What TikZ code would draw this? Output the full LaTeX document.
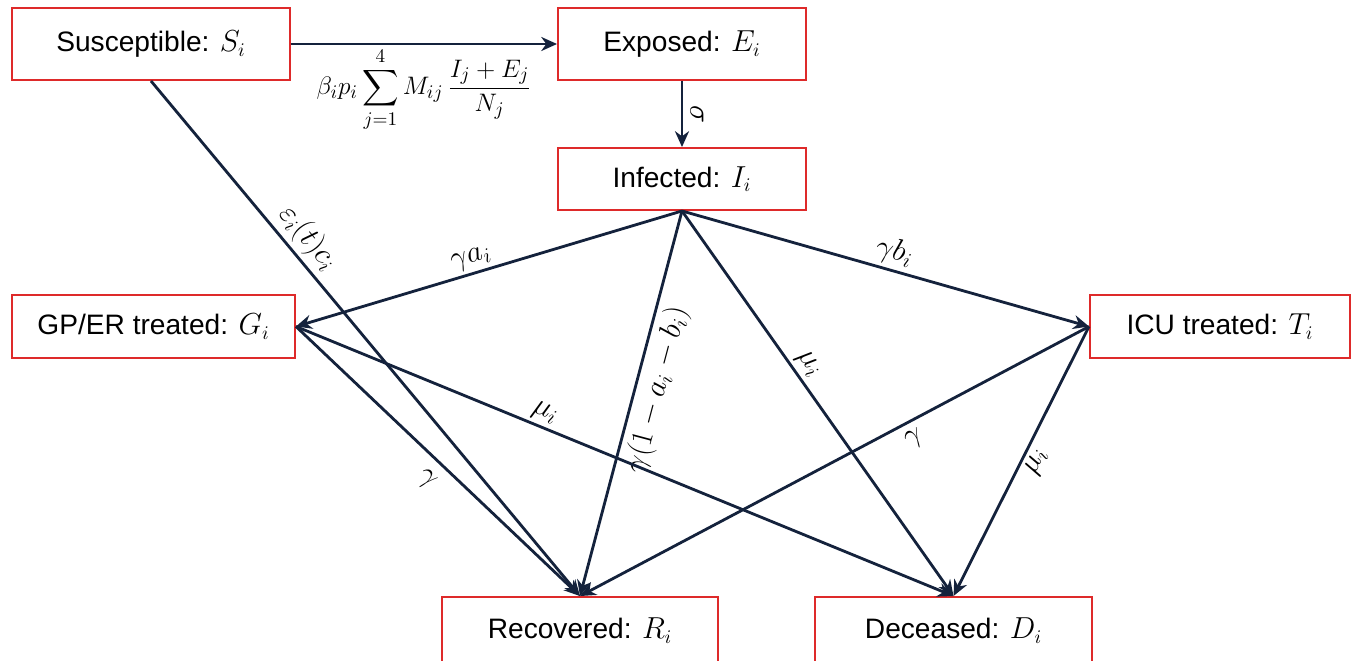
\documentclass[tikz,border=0pt]{standalone}
\usepackage{amsmath}
\usepackage[no-math]{fontspec}
\setmainfont{Liberation Sans}
\usetikzlibrary{arrows.meta, positioning}
\definecolor{BR}{RGB}{222,42,42}
\definecolor{NV}{RGB}{20,34,60}

\begin{document}
\begin{tikzpicture}[
  box/.style={draw=BR, line width=1.1pt, fill=white,
              minimum width=#1, minimum height=1.26cm,
              inner sep=0pt, font=\fontsize{16}{19}\selectfont},
  arr/.style={-{Stealth[length=9pt, width=8pt]}, line width=1.6pt, draw=NV},
  lbl/.style={sloped, inner sep=2pt, font=\fontsize{17}{20}\selectfont}
]
\useasboundingbox (0,0) rectangle (27.16,-13.22);

% Compartments
\node[box=5.56cm, minimum height=1.44cm] (S) at (3.02,-0.88)  {Susceptible: $S_i$};
\node[box=4.96cm, minimum height=1.44cm] (E) at (13.64,-0.88) {Exposed: $E_i$};
\node[box=4.96cm, minimum height=1.24cm] (I) at (13.64,-3.58) {Infected: $I_i$};
\node[box=5.66cm] (G) at (3.07,-6.53)  {GP/ER treated: $G_i$};
\node[box=5.20cm] (T) at (24.40,-6.53) {ICU treated: $T_i$};
\node[box=5.52cm, minimum height=1.34cm] (R) at (11.60,-12.61) {Recovered: $R_i$};
\node[box=5.54cm, minimum height=1.34cm] (D) at (19.07,-12.61) {Deceased: $D_i$};

% Transitions
\draw[arr] (S.east) -- node[midway, below, inner sep=1.5pt, font=\fontsize{15}{18}\selectfont]
  {$\beta_i p_i \displaystyle\sum_{j=1}^{4} M_{ij}\,\frac{I_j+E_j}{N_j}$} (E.west);
\draw[arr] (E.south) -- node[midway, rotate=-90, anchor=south, inner sep=4pt,
  font=\fontsize{17}{20}\selectfont] {$\sigma$} (I.north);
\draw[arr] (I.south) -- node[lbl, above, pos=0.535] {$\gamma a_i$} (G.east);
\draw[arr] (I.south) -- node[lbl, above, pos=0.51] {$\gamma b_i$} (T.west);
\draw[arr] (I.south) -- node[lbl, below, pos=0.45, inner sep=3pt] {$\gamma(1-a_i-b_i)$} (R.north);
\draw[arr] (I.south) -- node[lbl, above, pos=0.42] {$\mu_i$} (D.north);
\draw[arr] (S.south) -- node[lbl, above, pos=0.33] {$\varepsilon_i(t)c_i$} (R.north);
\draw[arr] (G.east) -- node[lbl, below, pos=0.51, inner sep=6pt] {$\gamma$} (R.north);
\draw[arr] (G.east) -- node[lbl, above, pos=0.37] {$\mu_i$} (D.north);
\draw[arr] (T.west) -- node[lbl, below, pos=0.36, inner sep=4pt] {$\gamma$} (R.north);
\draw[arr] (T.west) -- node[lbl, below, pos=0.48] {$\mu_i$} (D.north);
\end{tikzpicture}
\end{document}
